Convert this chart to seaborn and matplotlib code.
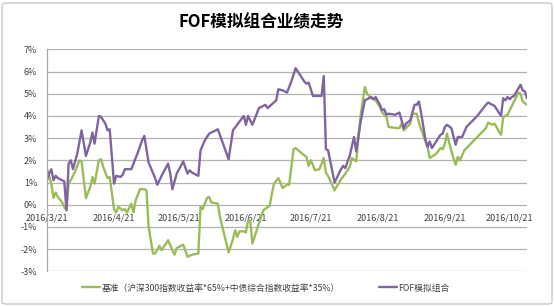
import numpy as np
import pandas as pd
import matplotlib
matplotlib.use("Agg")
import matplotlib.pyplot as plt
from matplotlib.patches import FancyBboxPatch
import seaborn as sns

# ---------------- data ----------------
start_date = "2016-03-21"
series_names = ["基准（沪深300指数收益率*65%+中债综合指数收益率*35%）", "FOF模拟组合"]

# benchmark: day offset from start date, cumulative return (%)
bench_days = [0, 1, 2, 3, 4, 5, 7, 8, 9, 10, 11, 13, 15, 16, 18, 20, 21, 22, 24, 25,
              26, 28, 29, 31, 32, 33, 35, 36, 37, 39, 40, 41, 43, 45, 46, 47, 49, 50, 52, 53,
              56, 58, 59, 60, 63, 65, 67, 70, 71, 72, 74, 75, 76, 79, 80, 84, 86, 87, 88, 89,
              91, 92, 93, 94, 95, 98, 100, 103, 104, 105, 107, 109, 111, 112, 114, 115, 118, 120, 121, 122,
              124, 126, 128, 129, 130, 133, 136, 138, 140, 141, 143, 145, 147, 148, 150, 152, 154, 155, 157, 158,
              162, 163, 164, 165, 166, 168, 169, 171, 172, 175, 176, 177, 180, 182, 183, 184, 185, 186, 188, 189,
              190, 191, 193, 203, 204, 206, 207, 209, 210, 211, 213, 218, 219, 220, 222]
bench_vals = [1.6, 1.3, 0.95, 0.3, 0.55, 0.35, 0.1, -0.1, -0.25, 0.95, 1.1, 1.5, 2.0, 1.95, 0.3, 0.8, 1.25, 0.95, 2.0, 2.05,
              1.7, 1.2, 1.25, -0.2, -0.35, -0.1, -0.25, -0.2, -0.35, 0.05, -0.35, 0.2, 0.7, 0.7, 0.65, -1.0, -2.2, -2.2, -1.85, -2.05,
              -1.6, -2.05, -2.25, -1.95, -1.8, -2.35, -2.25, -2.2, -0.1, -0.2, 0.3, 0.35, 0.1, 0.05, -0.55, -2.15, -1.55, -1.15, -1.45, -1.2,
              -1.2, -1.25, -0.7, -0.75, -1.75, -0.85, -0.25, -0.05, 0.5, 0.95, 1.2, 0.75, 0.9, 0.9, 2.5, 2.55, 2.3, 2.15, 1.75, 2.0,
              1.55, 1.6, 2.1, 1.45, 1.3, 0.65, 1.15, 1.4, 1.7, 2.1, 1.95, 4.0, 5.3, 5.0, 4.8, 4.7, 4.4, 4.15, 3.95, 3.5,
              3.45, 3.45, 3.65, 3.35, 3.45, 3.65, 4.1, 4.1, 3.7, 2.85, 2.6, 2.1, 2.3, 2.55, 2.5, 2.75, 3.2, 2.8, 2.1, 1.8,
              2.15, 2.0, 2.45, 3.45, 3.7, 3.6, 3.65, 3.3, 3.15, 3.95, 4.05, 5.05, 5.0, 4.65, 4.5]

# FOF portfolio: day offset from start date, cumulative return (%)
fof_days = [0, 1, 2, 3, 4, 5, 7, 8, 9, 10, 11, 12, 14, 16, 18, 20, 21, 22, 24, 25,
            27, 28, 29, 31, 32, 34, 35, 36, 38, 39, 42, 44, 45, 47, 50, 51, 53, 56, 57, 58,
            60, 63, 65, 66, 67, 70, 71, 73, 75, 79, 84, 86, 91, 92, 93, 95, 98, 101, 102, 106,
            107, 109, 111, 113, 115, 117, 119, 120, 121, 123, 127, 128, 129, 130, 133, 136, 137, 138, 139, 140,
            142, 143, 145, 147, 148, 150, 151, 152, 154, 155, 156, 157, 158, 161, 163, 165, 166, 168, 170, 171,
            172, 173, 175, 176, 177, 178, 180, 182, 183, 184, 185, 187, 189, 190, 192, 194, 199, 203, 204, 207,
            208, 210, 211, 212, 213, 214, 215, 216, 219, 220, 221, 222]
fof_vals = [1.1, 1.4, 1.6, 1.1, 1.3, 1.2, 1.1, 1.05, -0.25, 1.85, 2.0, 1.6, 2.3, 3.35, 2.2, 2.8, 3.25, 2.75, 4.0, 3.95,
            3.65, 3.35, 3.4, 0.95, 1.3, 1.25, 1.35, 1.6, 1.6, 1.6, 2.35, 2.9, 3.1, 1.9, 1.2, 0.9, 1.3, 1.85, 1.4, 0.7,
            1.4, 1.95, 1.4, 1.55, 1.45, 1.3, 2.45, 2.9, 3.2, 3.4, 2.05, 3.35, 4.0, 3.6, 4.0, 3.6, 4.35, 4.5, 4.35, 4.7,
            5.2, 5.15, 5.05, 5.55, 6.15, 5.85, 5.55, 5.45, 5.5, 4.9, 4.9, 5.8, 2.5, 2.45, 1.0, 1.6, 1.75, 1.65, 1.95, 2.2,
            3.05, 2.4, 3.7, 4.7, 4.75, 4.85, 4.75, 4.85, 4.5, 4.25, 4.3, 4.05, 4.1, 4.05, 4.15, 3.45, 3.65, 3.8, 4.5, 4.5,
            4.65, 4.15, 2.95, 2.6, 2.85, 2.55, 2.85, 3.15, 3.2, 3.5, 3.6, 3.45, 2.7, 3.05, 3.05, 3.5, 4.0, 4.5, 4.6, 4.45,
            4.3, 4.0, 4.8, 4.7, 4.85, 4.75, 4.85, 4.9, 5.4, 5.15, 5.1, 4.8]

x_tick_labels = ["2016/3/21", "2016/4/21", "2016/5/21", "2016/6/21",
                 "2016/7/21", "2016/8/21", "2016/9/21", "2016/10/21"]
y_ticks = [-3, -2, -1, 0, 1, 2, 3, 4, 5, 6, 7]
title_text = "FOF模拟组合业绩走势"

# ---------------- build frame ----------------
base = pd.Timestamp(start_date)
df = pd.concat([
    pd.DataFrame({"date": base + pd.to_timedelta(bench_days, unit="D"),
                  "ret": bench_vals, "series": series_names[0]}),
    pd.DataFrame({"date": base + pd.to_timedelta(fof_days, unit="D"),
                  "ret": fof_vals, "series": series_names[1]}),
], ignore_index=True)

# ---------------- style ----------------
sns.set_style("white")
plt.rcParams["font.family"] = ["Noto Sans CJK SC", "DejaVu Sans"]
plt.rcParams["axes.unicode_minus"] = False

fig = plt.figure(figsize=(5.54, 3.06), dpi=100)
ax = fig.add_axes([47 / 554, 1 - 271.3 / 306, 480 / 554, 222 / 306])

palette = {series_names[0]: "#9BBB59", series_names[1]: "#8064A2"}
sns.lineplot(data=df, x="date", y="ret", hue="series", hue_order=series_names,
             palette=palette, estimator=None, sort=True, linewidth=1.7, ax=ax)

handles, labels = ax.get_legend_handles_labels()
ax.get_legend().remove()

ax.set_ylim(-3, 7)
ax.set_yticks(y_ticks)
ax.set_yticklabels([f"{v}%" for v in y_ticks])
ax.set_xlim(base, base + pd.Timedelta(days=222))
tick_dates = pd.to_datetime(x_tick_labels, format="%Y/%m/%d")
ax.set_xticks(tick_dates)
ax.set_xticklabels(x_tick_labels)

ax.grid(axis="y", color="#B3B3B3", linewidth=0.9)
ax.grid(axis="x", visible=False)
ax.set_axisbelow(True)
for s in ["top", "right"]:
    ax.spines[s].set_visible(False)
ax.spines["left"].set_color("#A6A6A6")
ax.spines["left"].set_linewidth(0.9)
ax.spines["bottom"].set_position(("data", 0))
ax.spines["bottom"].set_visible(False)
ax.tick_params(axis="y", length=0, pad=7, labelsize=6.5, colors="#404040")
ax.tick_params(axis="x", length=0, pad=6, labelsize=6.5, colors="#404040")
ax.set_xlabel("")
ax.set_ylabel("")

fig.text(261 / 554, 1 - 22 / 306, title_text, ha="center", va="center",
         fontsize=12, fontweight="bold", color="#000000")

fig.legend(handles, labels, loc="center", bbox_to_anchor=(266 / 554, 1 - 288 / 306),
           ncol=2, frameon=False, fontsize=6.3, handlelength=2.0, handletextpad=0.2,
           columnspacing=4.5, labelcolor="#404040")

border = FancyBboxPatch((2 / 554, 2 / 306), 550 / 554, 301 / 306,
                        boxstyle="round,pad=0,rounding_size=0.008",
                        transform=fig.transFigure, facecolor="none",
                        edgecolor="#C8C8C8", linewidth=1.0)
fig.patches.append(border)

fig.savefig("out.png", dpi=100)
